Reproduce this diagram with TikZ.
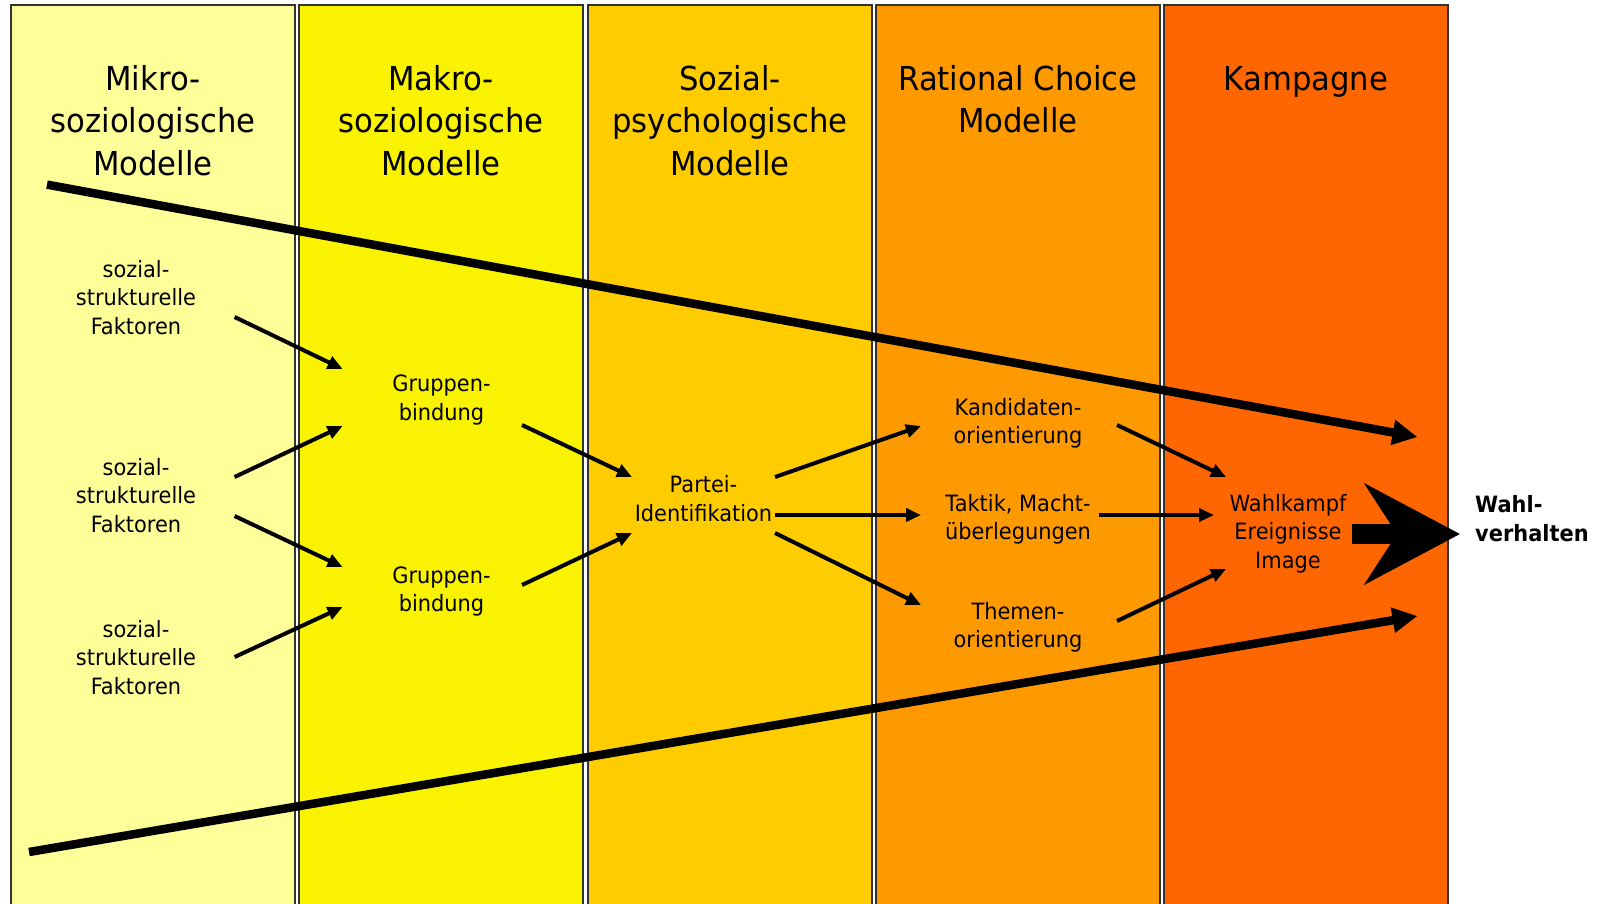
\documentclass[tikz,border=0pt]{standalone}
\usepackage{fontspec}
\setmainfont{DejaVu Sans}[FakeStretch=0.93]
\usetikzlibrary{arrows.meta}
\definecolor{cmikro}{HTML}{FFFF99}
\definecolor{cmakro}{HTML}{F9F200}
\definecolor{csozial}{HTML}{FFCC00}
\definecolor{crational}{HTML}{FF9900}
\definecolor{ckampagne}{HTML}{FF6600}
\definecolor{colborder}{HTML}{333333}
\begin{document}
\begin{tikzpicture}[x=1pt,y=-1pt,
  colbox/.style={draw=colborder, line width=1.5pt},
  headtext/.style={font=\fontsize{33}{42.5}\selectfont, align=center, anchor=base, inner sep=0pt},
  lbl/.style={font=\fontsize{22.5}{28.5}\selectfont, align=center, anchor=base, inner sep=0pt},
  arr/.style={line width=4pt, -{Triangle[length=15pt,width=13pt]}},
  bigarr/.style={line width=8.5pt, -{Triangle[length=25pt,width=24pt]}},
  fatarr/.style={line width=20.5pt, -{Stealth[length=95pt,width=100pt,inset=32pt]}},
]
\useasboundingbox (0,0) rectangle (1599,903);
\clip (0,0) rectangle (1599,903);
\fill[white] (0,0) rectangle (1599,903);
% columns
\draw[colbox, fill=cmikro]    (11,5) rectangle (295,915);
\draw[colbox, fill=cmakro]    (299,5) rectangle (583,915);
\draw[colbox, fill=csozial]   (588,5) rectangle (872,915);
\draw[colbox, fill=crational] (876,5) rectangle (1160,915);
\draw[colbox, fill=ckampagne] (1164,5) rectangle (1448,915);
% headings (base anchor = baseline of last line)
\node[headtext] (h1) at (153,175) {Mikro-\\soziologische\\Modelle};
\node[headtext] (h2) at (441,175) {Makro-\\soziologische\\Modelle};
\node[headtext] (h3) at (730,175) {Sozial-\\psychologische\\Modelle};
\node[headtext] (h4) at (1018,132.5) {Rational Choice\\Modelle};
\node[headtext] (h5) at (1306,90) {Kampagne};
% labels
\node[lbl] (s1) at (136,334) {sozial-\\strukturelle\\Faktoren};
\node[lbl] (s2) at (136,532) {sozial-\\strukturelle\\Faktoren};
\node[lbl] (s3) at (136,694) {sozial-\\strukturelle\\Faktoren};
\node[lbl] (g1) at (441.5,420) {Gruppen-\\bindung};
\node[lbl] (g2) at (441.5,611.5) {Gruppen-\\bindung};
\node[lbl] (pi) at (703.5,521) {Partei-\\Identifikation};
\node[lbl] (ko) at (1018,443.5) {Kandidaten-\\orientierung};
\node[lbl] (tm) at (1018,539.5) {Taktik, Macht-\\überlegungen};
\node[lbl] (to) at (1018,647.5) {Themen-\\orientierung};
\node[lbl] (wk) at (1288,568) {Wahlkampf\\Ereignisse\\Image};
\node[lbl, font=\fontsize{22.5}{29.5}\selectfont\bfseries, align=left, anchor=base west] (wv) at (1475,541.5) {Wahl-\\verhalten};
% arrow end coordinates
\coordinate (s1o) at (234.6,317);  \coordinate (g1a) at (342.6,369);
\coordinate (s2o) at (234.6,477);  \coordinate (g1b) at (342.6,426);
\coordinate (s2p) at (234.6,516);  \coordinate (g2a) at (342.6,567);
\coordinate (s3o) at (234.6,657);  \coordinate (g2b) at (342.6,607);
\coordinate (g1o) at (522,425);    \coordinate (pia) at (632,477);
\coordinate (g2o) at (522,585);    \coordinate (pib) at (632,533);
\coordinate (pio1) at (775,477);   \coordinate (koi) at (921,426);
\coordinate (pio2) at (775,515);   \coordinate (tmi) at (921,515);
\coordinate (pio3) at (775,533);   \coordinate (toi) at (921,605);
\coordinate (koo) at (1117,425);   \coordinate (wka) at (1226,477);
\coordinate (tmo) at (1099,515);   \coordinate (wkb) at (1214,515);
\coordinate (too) at (1117,621);   \coordinate (wkc) at (1226,569);
\coordinate (topS) at (47,184.6);  \coordinate (topE) at (1417.5,437);
\coordinate (botS) at (29,852);    \coordinate (botE) at (1417.5,616);
\coordinate (wko) at (1352,534);   \coordinate (wvi) at (1460,534);
% small arrows
\draw[arr] (s1o) -- (g1a);
\draw[arr] (s2o) -- (g1b);
\draw[arr] (s2p) -- (g2a);
\draw[arr] (s3o) -- (g2b);
\draw[arr] (g1o) -- (pia);
\draw[arr] (g2o) -- (pib);
\draw[arr] (pio1) -- (koi);
\draw[arr] (pio2) -- (tmi);
\draw[arr] (pio3) -- (toi);
\draw[arr] (koo) -- (wka);
\draw[arr] (tmo) -- (wkb);
\draw[arr] (too) -- (wkc);
% big arrows
\draw[bigarr] (topS) -- (topE);
\draw[bigarr] (botS) -- (botE);
\draw[fatarr] (wko) -- (wvi);
\end{tikzpicture}
\end{document}
